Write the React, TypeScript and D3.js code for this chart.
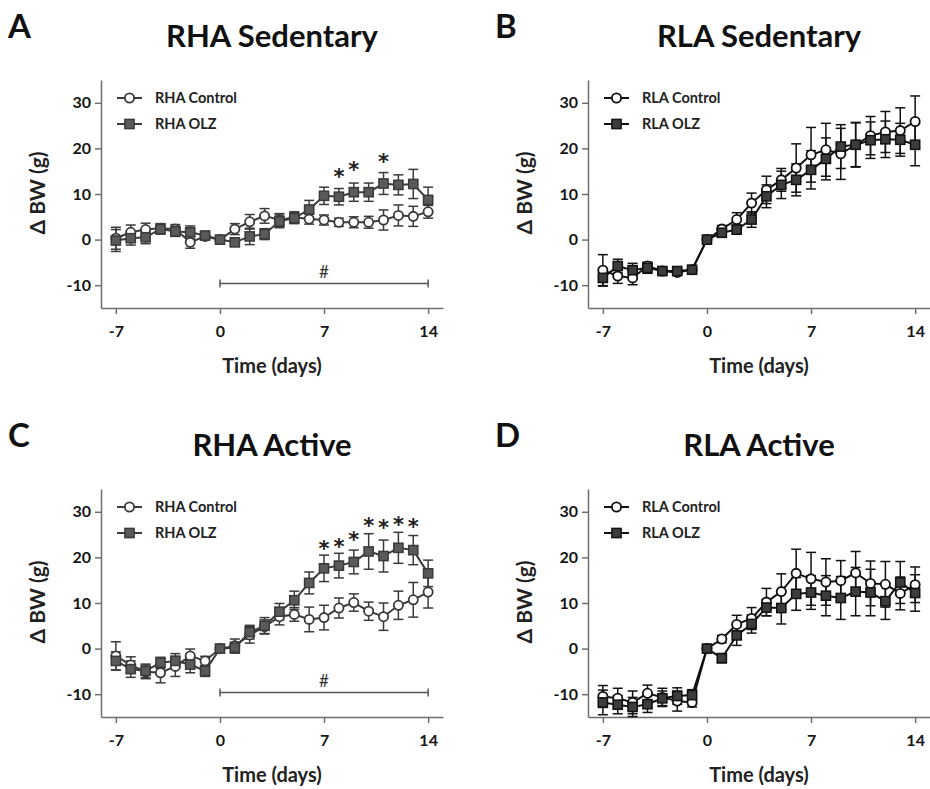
import React, { useEffect, useRef } from "react";
import * as d3 from "d3";

// days relative to start of treatment
const days = [-7, -6, -5, -4, -3, -2, -1, 0, 1, 2, 3, 4, 5, 6, 7, 8, 9, 10, 11, 12, 13, 14];
const xTicks = [-7, 0, 7, 14];
const yTicks = [-10, 0, 10, 20, 30];

// A - RHA sedentary
const rhaSedControl = [0.3, 1.6, 2.2, 2.5, 2.3, -0.6, 0.7, 0, 2.3, 3.9, 5.2, 4.3, 4.9, 4.5, 4.3, 3.8, 3.8, 3.8, 4.3, 5.3, 5.1, 6.1];
const rhaSedControlErr = [2.4, 1.6, 1.4, 1.0, 1.0, 1.3, 0.7, 0, 1.2, 1.6, 1.6, 1.4, 1.2, 1.1, 1.1, 0.9, 1.2, 1.3, 2.2, 2.3, 2.2, 1.4];
const rhaSedOlz = [-0.2, 0.3, 0.5, 2.3, 1.8, 1.6, 0.9, 0, -0.6, 0.7, 1.2, 4.0, 4.7, 6.6, 9.6, 9.4, 10.4, 10.4, 12.3, 12.0, 12.2, 8.7];
const rhaSedOlzErr = [2.4, 1.5, 1.4, 1.1, 1.1, 1.4, 0.7, 0, 0.8, 1.8, 1.2, 1.4, 1.2, 2.0, 1.9, 1.8, 2.0, 2.0, 2.4, 2.2, 3.2, 2.8];
const rhaSedStarDays = [8, 9, 11];
const rhaSedStarLevels = [15.1, 16.6, 18.4];

// B - RLA sedentary
const rlaSedControl = [-6.7, -8.0, -8.4, -5.8, -6.9, -7.2, -6.6, 0, 2.3, 4.4, 8.0, 10.9, 13.1, 15.7, 18.6, 19.7, 18.8, 20.8, 22.8, 23.6, 23.9, 25.9];
const rlaSedControlErr = [3.4, 1.6, 1.5, 0.8, 0.5, 0.5, 0.5, 0, 0.8, 1.5, 2.2, 3.0, 2.5, 5.3, 6.0, 5.8, 5.6, 4.8, 4.2, 4.5, 5.0, 5.6];
const rlaSedOlz = [-8.4, -5.8, -6.7, -6.2, -6.9, -6.9, -6.6, 0, 1.5, 2.2, 4.4, 9.5, 12.0, 13.1, 15.3, 17.7, 20.4, 20.8, 21.8, 22.0, 21.9, 20.8];
const rlaSedOlzErr = [1.8, 1.5, 1.5, 1.2, 0.5, 0.5, 0.5, 0, 0.8, 1.0, 1.7, 2.5, 3.0, 3.5, 4.2, 4.6, 4.8, 4.9, 4.0, 4.0, 3.6, 4.6];

// C - RHA active
const rhaActControl = [-1.6, -3.6, -5.1, -5.3, -3.9, -1.6, -2.7, 0, 0.6, 3.0, 4.8, 7.0, 7.5, 6.4, 6.8, 8.9, 10.1, 8.2, 7.0, 9.5, 10.7, 12.4];
const rhaActControlErr = [3.1, 1.8, 1.5, 2.2, 2.2, 1.5, 1.0, 0, 1.5, 1.8, 1.5, 1.8, 1.5, 2.7, 2.7, 2.2, 1.9, 2.0, 3.0, 3.1, 3.8, 3.5];
const rhaActOlz = [-2.7, -4.5, -4.9, -3.1, -2.7, -3.5, -4.9, 0, 0.2, 3.6, 5.0, 8.1, 10.6, 14.4, 17.6, 18.2, 19.0, 21.3, 20.3, 22.1, 21.6, 16.5];
const rhaActOlzErr = [2.0, 1.8, 1.5, 1.2, 1.6, 1.8, 1.2, 0, 1.2, 1.5, 1.8, 1.8, 2.0, 2.4, 2.9, 2.7, 2.6, 3.9, 3.5, 3.4, 3.2, 2.9];
const rhaActStarDays = [7, 8, 9, 10, 11, 12, 13];
const rhaActStarLevels = [23.1, 23.7, 25.1, 28.1, 27.7, 28.4, 27.9];

// D - RLA active
const rlaActControl = [-10.5, -10.9, -11.8, -9.8, -10.7, -11.5, -11.8, 0, 2.1, 5.3, 6.6, 10.2, 12.5, 16.5, 15.3, 14.6, 14.9, 16.6, 14.3, 14.1, 12.1, 14.0];
const rlaActControlErr = [2.4, 2.2, 2.5, 1.8, 2.0, 2.2, 1.0, 0, 0.8, 2.0, 2.4, 3.0, 3.9, 5.3, 5.8, 5.1, 4.4, 4.7, 4.9, 5.0, 3.6, 3.9];
const rlaActOlz = [-11.8, -12.3, -12.8, -12.2, -10.9, -10.4, -10.2, 0, -2.1, 2.9, 5.4, 9.0, 8.9, 12.0, 12.3, 11.6, 11.1, 12.5, 12.3, 10.4, 14.5, 12.2];
const rlaActOlzErr = [2.7, 2.0, 2.1, 1.8, 1.6, 1.8, 1.2, 0, 1.0, 2.2, 2.0, 1.8, 3.5, 3.6, 3.7, 4.4, 4.7, 5.3, 5.1, 4.0, 4.6, 4.0];

const panels = [
    { letter: "A", title: "RHA Sedentary", strain: "RHA", dx: 0, dy: 0, control: rhaSedControl, controlErr: rhaSedControlErr, olz: rhaSedOlz, olzErr: rhaSedOlzErr, starDays: rhaSedStarDays, starLevels: rhaSedStarLevels, hash: true, ink: "#3a3a3a", fill: "#5a5a5a" },
    { letter: "B", title: "RLA Sedentary", strain: "RLA", dx: 487, dy: 0, control: rlaSedControl, controlErr: rlaSedControlErr, olz: rlaSedOlz, olzErr: rlaSedOlzErr, starDays: [], starLevels: [], hash: false, ink: "#111", fill: "#3c3c3c" },
    { letter: "C", title: "RHA Active", strain: "RHA", dx: 0, dy: 409, control: rhaActControl, controlErr: rhaActControlErr, olz: rhaActOlz, olzErr: rhaActOlzErr, starDays: rhaActStarDays, starLevels: rhaActStarLevels, hash: true, ink: "#3a3a3a", fill: "#5a5a5a" },
    { letter: "D", title: "RLA Active", strain: "RLA", dx: 487, dy: 409, control: rlaActControl, controlErr: rlaActControlErr, olz: rlaActOlz, olzErr: rlaActOlzErr, starDays: [], starLevels: [], hash: false, ink: "#111", fill: "#3c3c3c" },
];

const W = 930;
const H = 789;
const left = 101;
const top = 80;
const plotW = 342;
const plotH = 228;
const font = "Lato, 'Open Sans', sans-serif";
const axisColor = "#6e6e6e";

function drawPanel(svg, p) {
    const g = svg.append("g").attr("transform", `translate(${p.dx},${p.dy})`);

    const x = d3.scaleLinear().domain([-8, 15]).range([left, left + plotW]);
    const y = d3.scaleLinear().domain([-15, 35]).range([top + plotH, top]);

    g.append("text")
        .attr("x", 8)
        .attr("y", 38)
        .attr("font-family", font)
        .attr("font-size", 33)
        .attr("font-weight", 700)
        .attr("fill", "#111")
        .text(p.letter);

    g.append("text")
        .attr("x", left + plotW / 2)
        .attr("y", 47)
        .attr("text-anchor", "middle")
        .attr("font-family", font)
        .attr("font-size", 31)
        .attr("font-weight", 700)
        .attr("fill", "#111")
        .text(p.title);

    // axes, plain hyphen for negatives like the original
    const yAxis = g
        .append("g")
        .attr("transform", `translate(${left},0)`)
        .call(d3.axisLeft(y).tickValues(yTicks).tickFormat((d) => String(d)).tickSize(6).tickSizeOuter(0).tickPadding(4));
    const xAxis = g
        .append("g")
        .attr("transform", `translate(0,${top + plotH})`)
        .call(d3.axisBottom(x).tickValues(xTicks).tickFormat((d) => String(d)).tickSize(6).tickSizeOuter(0).tickPadding(12));

    [yAxis, xAxis].forEach((a) => {
        a.select(".domain").attr("stroke", axisColor).attr("stroke-width", 1.5);
        a.selectAll(".tick line").attr("stroke", axisColor).attr("stroke-width", 1.5);
        a.selectAll(".tick text")
            .attr("font-family", font)
            .attr("font-size", 16)
            .attr("font-weight", 700)
            .attr("fill", "#151515");
    });

    g.append("text")
        .attr("x", left + plotW / 2)
        .attr("y", 373)
        .attr("text-anchor", "middle")
        .attr("font-family", font)
        .attr("font-size", 20)
        .attr("font-weight", 700)
        .attr("fill", "#222")
        .text("Time (days)");

    g.append("text")
        .attr("transform", `translate(45,${top + plotH / 2 - 1}) rotate(-90)`)
        .attr("text-anchor", "middle")
        .attr("font-family", font)
        .attr("font-size", 21)
        .attr("font-weight", 700)
        .attr("fill", "#222")
        .text("Δ BW (g)");

    // significance bar over treatment period
    if (p.hash) {
        const by = y(-9.6);
        const hb = g.append("g").attr("stroke", "#555").attr("stroke-width", 1.5);
        hb.append("line").attr("x1", x(0)).attr("x2", x(14)).attr("y1", by).attr("y2", by);
        [0, 14].forEach((d) => {
            hb.append("line").attr("x1", x(d)).attr("x2", x(d)).attr("y1", by - 4).attr("y2", by + 4);
        });
        g.append("text")
            .attr("x", x(7))
            .attr("y", by - 5)
            .attr("text-anchor", "middle")
            .attr("font-family", font)
            .attr("font-size", 17)
            .attr("fill", "#333")
            .text("#");
    }

    const series = [
        { vals: p.control, errs: p.controlErr, type: "circle" },
        { vals: p.olz, errs: p.olzErr, type: "square" },
    ];

    // error bars
    series.forEach((s) => {
        const eb = g.append("g").attr("stroke", p.ink).attr("stroke-width", 1.5);
        s.vals.forEach((v, i) => {
            const e = s.errs[i];
            if (!e) return;
            const cx = x(days[i]);
            eb.append("line").attr("x1", cx).attr("x2", cx).attr("y1", y(v - e)).attr("y2", y(v + e));
            [v - e, v + e].forEach((c) => {
                eb.append("line").attr("x1", cx - 5).attr("x2", cx + 5).attr("y1", y(c)).attr("y2", y(c));
            });
        });
    });

    const line = d3
        .line()
        .x((d, i) => x(days[i]))
        .y((d) => y(d));

    series.forEach((s) => {
        g.append("path")
            .datum(s.vals)
            .attr("fill", "none")
            .attr("stroke", p.ink)
            .attr("stroke-width", 2)
            .attr("d", line);
    });

    function marker(sel, type, cx, cy) {
        if (type === "circle") {
            sel.append("circle")
                .attr("cx", cx)
                .attr("cy", cy)
                .attr("r", 4.6)
                .attr("fill", "#fff")
                .attr("stroke", p.ink)
                .attr("stroke-width", 1.8);
        } else {
            sel.append("rect")
                .attr("x", cx - 4.6)
                .attr("y", cy - 4.6)
                .attr("width", 9.2)
                .attr("height", 9.2)
                .attr("fill", p.fill)
                .attr("stroke", p.ink)
                .attr("stroke-width", 1.5);
        }
    }

    series.forEach((s) => {
        const mg = g.append("g");
        s.vals.forEach((v, i) => marker(mg, s.type, x(days[i]), y(v)));
    });

    // stars
    p.starDays.forEach((d, i) => {
        g.append("text")
            .attr("x", x(d))
            .attr("y", y(p.starLevels[i]) + 13)
            .attr("text-anchor", "middle")
            .attr("font-family", "'DejaVu Sans', sans-serif")
            .attr("font-size", 21)
            .attr("font-weight", 700)
            .attr("fill", "#222")
            .text("*");
    });

    // legend
    const labels = [p.strain + " Control", p.strain + " OLZ"];
    series.forEach((s, i) => {
        const ly = top + 18 + i * 26;
        const lg = g.append("g");
        lg.append("line")
            .attr("x1", left + 16)
            .attr("x2", left + 41)
            .attr("y1", ly)
            .attr("y2", ly)
            .attr("stroke", p.ink)
            .attr("stroke-width", 2);
        marker(lg, s.type, left + 28.5, ly);
        lg.append("text")
            .attr("x", left + 54)
            .attr("y", ly + 5)
            .attr("font-family", font)
            .attr("font-size", 14.5)
            .attr("font-weight", 700)
            .attr("fill", "#222")
            .text(labels[i]);
    });
}

export default function App() {
    const ref = useRef(null);

    useEffect(() => {
        document.body.style.margin = "0";
        const svg = d3.select(ref.current);
        svg.selectAll("*").remove();
        panels.forEach((p) => drawPanel(svg, p));
    }, []);

    return <svg ref={ref} width={W} height={H} style={{ display: "block", background: "#fff" }} />;
}
